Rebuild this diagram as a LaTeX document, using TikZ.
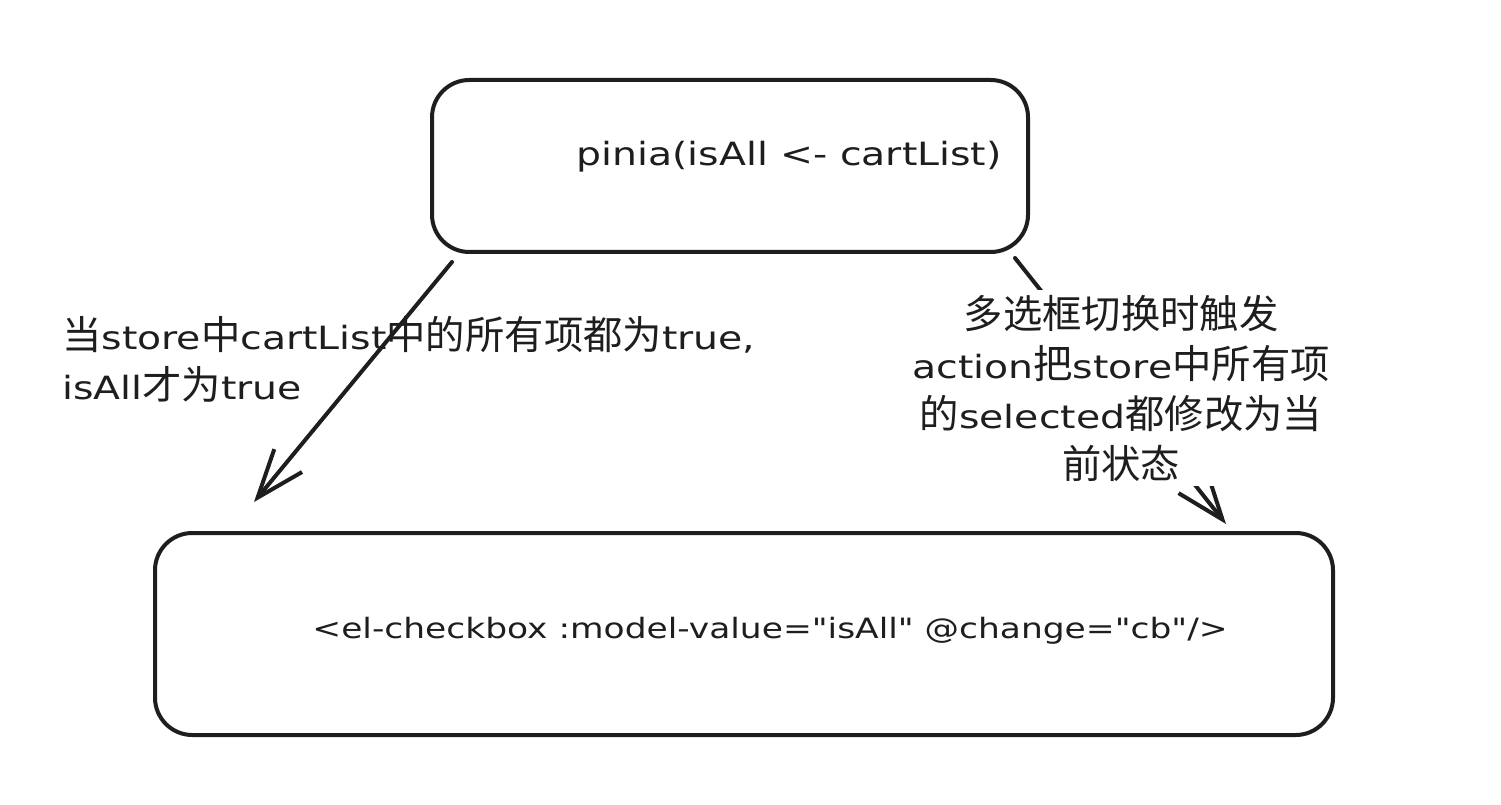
\documentclass[tikz,border=0pt]{standalone}
\usepackage{fontspec}
\setmainfont{DejaVu Sans}[FakeStretch=1.23, Ligatures=TeXOff]
\newfontfamily\cjk{Noto Sans CJK SC}
\usetikzlibrary{arrows.meta}
\definecolor{ink}{HTML}{1E1E1E}
\newcommand\zh[1]{{\fontsize{29.5}{38}\cjk #1}}
\begin{document}
\begin{tikzpicture}[x=0.75pt,y=-0.75pt,
  box/.style={draw=ink, line width=3pt, rounded corners=28pt, inner sep=0pt},
  txt/.style={inner sep=0pt, text=ink, font=\fontsize{24}{37.5}\selectfont},
  conn/.style={draw=ink, line width=3pt, line cap=round,
    -{Straight Barb[length=36pt,width=27pt,line width=3pt]}}
]
\useasboundingbox[fill=white] (0,0) rectangle (1501,805);
% boxes
\node[box, minimum width=447pt, minimum height=129pt] (top) at (730,166) {};
\node[txt] (toptext) at (789,157) {pinia(isAll <- cartList)};
\node[box, minimum width=883.5pt, minimum height=151.5pt] (bot) at (744,634) {};
\node[txt, font=\fontsize{21}{30}\selectfont] (bottext) at (770,631)
  {<el-checkbox :model-value="isAll" @change="cb"/>};
% right connector, partly hidden by its label
\coordinate (r1) at (1015,258);
\coordinate (r2) at (1226,524);
\draw[conn] (r1) -- (r2);
\node[txt, align=center, fill=white, inner sep=4pt] (rlab) at (1121,388)
  {\zh{多选框切换时触发}\\action\zh{把}store\zh{中所有项}\\\zh{的}selected\zh{都修改为当}\\\zh{前状态}};
% left label and connector
\node[txt, anchor=west, align=left] (llab) at (62,359)
  {\zh{当}store\zh{中}cartList\zh{中的所有项都为}true,\\isAll\zh{才为}true};
\coordinate (l1) at (452,262);
\coordinate (l2) at (254,502);
\draw[conn] (l1) -- (l2);
\end{tikzpicture}
\end{document}
